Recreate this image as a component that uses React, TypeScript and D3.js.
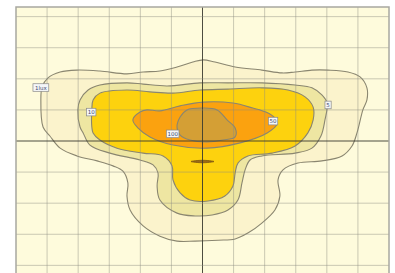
import React from "react";
import * as d3 from "d3";

// Grid extents (grid units, origin at luminaire centre)
const xTicks = [-6, -5, -4, -3, -2, -1, 0, 1, 2, 3, 4, 5, 6];
const yTicks = [-4, -3, -2, -1, 0, 1, 2, 3, 4];

// Iso-contour outlines [x, y] in grid units
const contour1: [number, number][] = [
  [-4.97, 2.03], [-4.58, 2.22], [-4.04, 2.28], [-3.3, 2.25], [-2.43, 2.16], [-1.91, 2.22],
  [-1.37, 2.25], [-0.82, 2.38], [-0.31, 2.54], [0.02, 2.61], [0.4, 2.54], [1.05, 2.38],
  [1.91, 2.28], [2.56, 2.19], [2.98, 2.22], [3.52, 2.28], [4.04, 2.28], [4.68, 2.22],
  [5.07, 2.06], [5.29, 1.71], [5.29, 1.32], [5.16, 1.0], [4.97, 0.26], [4.81, -0.16],
  [4.49, -0.48], [3.84, -0.64], [3.07, -0.71], [2.59, -0.93], [2.43, -1.25], [2.49, -1.77],
  [2.33, -2.22], [1.91, -2.64], [1.46, -2.96], [1.05, -3.15], [0.5, -3.19], [-0.24, -3.22],
  [-0.82, -3.22], [-1.37, -3.06], [-1.91, -2.73], [-2.33, -2.22], [-2.43, -1.77], [-2.4, -1.35],
  [-2.56, -0.97], [-2.88, -0.8], [-3.39, -0.64], [-4.04, -0.48], [-4.58, -0.23], [-4.91, 0.16],
  [-5.13, 0.45], [-5.2, 1.32], [-5.16, 1.74],
];
const contour5: [number, number][] = [
  [-4.01, 1.0], [-3.94, 1.32], [-3.68, 1.64], [-3.3, 1.8], [-2.43, 1.87], [-1.91, 1.83],
  [-1.14, 1.77], [-0.08, 1.87], [0.82, 1.87], [1.91, 1.87], [2.98, 1.8], [3.52, 1.71],
  [3.84, 1.48], [4.01, 1.22], [3.94, 0.68], [3.81, 0.16], [3.52, -0.23], [2.98, -0.39],
  [1.91, -0.48], [1.53, -0.61], [1.37, -0.93], [1.27, -1.35], [1.14, -1.9], [0.82, -2.22],
  [0.31, -2.38], [-0.24, -2.41], [-0.82, -2.32], [-1.37, -1.9], [-1.46, -1.45], [-1.43, -1.03],
  [-1.59, -0.77], [-2.01, -0.61], [-2.98, -0.39], [-3.62, -0.13], [-3.84, 0.26], [-3.94, 0.45],
];
const contour10: [number, number][] = [
  [-3.56, 1.0], [-3.52, 1.32], [-3.3, 1.54], [-2.43, 1.64], [-1.69, 1.58], [-0.95, 1.54],
  [-0.08, 1.64], [0.82, 1.67], [1.91, 1.71], [2.75, 1.64], [3.3, 1.42], [3.56, 1.09],
  [3.56, 0.68], [3.39, 0.26], [2.98, -0.16], [2.24, -0.39], [1.46, -0.48], [1.14, -0.71],
  [1.05, -1.03], [0.98, -1.45], [0.72, -1.77], [0.18, -1.93], [-0.4, -1.9], [-0.72, -1.67],
  [-0.95, -1.25], [-0.98, -0.8], [-1.27, -0.48], [-1.91, -0.39], [-2.75, -0.23], [-3.3, 0.03],
  [-3.52, 0.26], [-3.56, 0.45],
];
const contour50: [number, number][] = [
  [-2.24, 0.68], [-2.01, 0.93], [-1.79, 1.0], [-1.37, 0.97], [-0.72, 1.13], [0.02, 1.25],
  [0.98, 1.22], [1.62, 1.06], [2.04, 0.93], [2.33, 0.74], [2.4, 0.55], [2.08, 0.26],
  [1.21, -0.06], [0.14, -0.23], [-0.95, -0.13], [-1.69, 0.13], [-2.08, 0.42],
];
const contour100: [number, number][] = [
  [-0.82, 0.45], [-0.72, 0.77], [-0.5, 1.0], [0.02, 1.06], [0.47, 1.0], [0.79, 0.68],
  [1.05, 0.42], [1.05, 0.13], [0.66, 0.03], [0.14, -0.03], [-0.4, 0.03], [-0.72, 0.19],
];
const contourPeak: [number, number][] = [
  [-0.37, -0.66], [0.0, -0.62], [0.37, -0.66], [0.0, -0.7],
];

const levels = [
  { name: "1", pts: contour1, fill: "#fbf3cc" },
  { name: "5", pts: contour5, fill: "#eee6a2" },
  { name: "10", pts: contour10, fill: "#fdd20e" },
  { name: "50", pts: contour50, fill: "#fba20f" },
  { name: "100", pts: contour100, fill: "#d49f35" },
];

const labelTexts = ["1lux", "10", "100", "50", "5"];
const labelX = [-5.2, -3.58, -0.96, 2.27, 4.04];
const labelY = [1.72, 0.93, 0.23, 0.64, 1.16];

export default function App() {
  const W = 395;
  const H = 273;
  const x = d3.scaleLinear().domain([-6, 6]).range([16, 389]);
  const y = d3.scaleLinear().domain([-4.31, 4.31]).range([275, 7]);
  const line = d3
    .line<[number, number]>()
    .x((d) => x(d[0]))
    .y((d) => y(d[1]))
    .curve(d3.curveCatmullRomClosed.alpha(0.5));

  return (
    <svg
      width={W}
      height={H}
      style={{ position: "absolute", left: 0, top: 0, background: "#ffffff" }}
      fontFamily="DejaVu Sans, sans-serif"
    >
      <rect x={x(-6)} y={y(4.31)} width={x(6) - x(-6)} height={y(-4.31) - y(4.31)} fill="#fefbdc" />
      {levels.map((l) => (
        <path key={l.name} d={line(l.pts) || ""} fill={l.fill} stroke="#8a8670" strokeWidth={1.1} />
      ))}
      <path d={line(contourPeak) || ""} fill="#9a6a18" stroke="#7a5410" strokeWidth={0.8} />
      {xTicks.slice(1, -1).map((t) => (
        <line
          key={"gx" + t}
          x1={x(t)}
          x2={x(t)}
          y1={y(4.31)}
          y2={y(-4.31)}
          stroke={t === 0 ? "#3a3a30" : "#8c8c80"}
          strokeOpacity={t === 0 ? 0.9 : 0.45}
          strokeWidth={1}
        />
      ))}
      {yTicks.map((t) => (
        <line
          key={"gy" + t}
          x1={x(-6)}
          x2={x(6)}
          y1={y(t)}
          y2={y(t)}
          stroke={t === 0 ? "#3a3a30" : "#8c8c80"}
          strokeOpacity={t === 0 ? 0.9 : 0.45}
          strokeWidth={1}
        />
      ))}
      <rect
        x={x(-6)}
        y={y(4.31)}
        width={x(6) - x(-6)}
        height={y(-4.31) - y(4.31)}
        fill="none"
        stroke="#a8a8a0"
        strokeWidth={1.5}
      />
      {labelTexts.map((t, i) => {
        const w = t.length * 3.2 + 3;
        return (
          <g key={"lb" + i} transform={`translate(${x(labelX[i])},${y(labelY[i])})`}>
            <rect x={-w / 2} y={-3.8} width={w} height={7.6} fill="#f4f6f8" stroke="#8a8a8a" strokeWidth={0.7} />
            <text x={0} y={2.1} fontSize={5.5} textAnchor="middle" fill="#3c4a70">
              {t}
            </text>
          </g>
        );
      })}
    </svg>
  );
}
